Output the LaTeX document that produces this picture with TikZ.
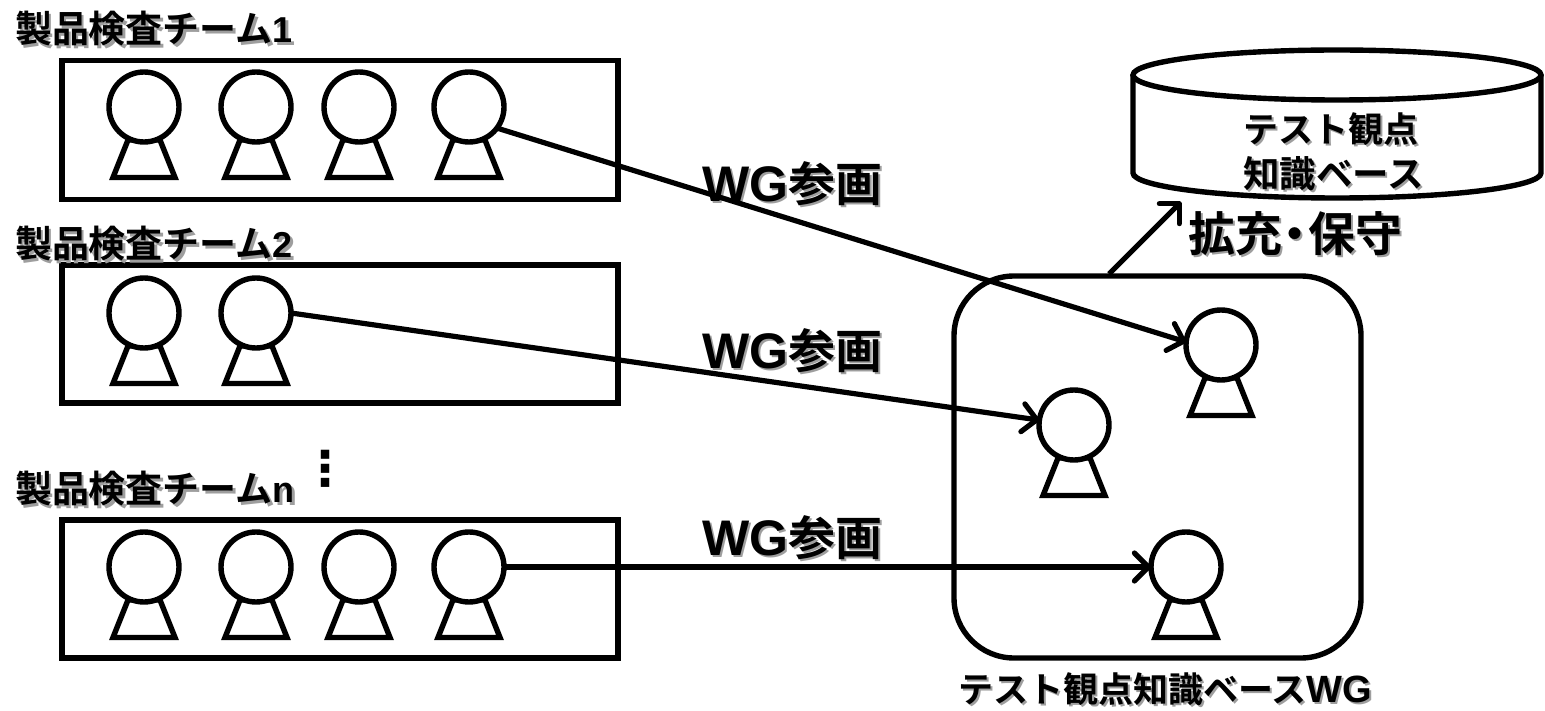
\documentclass[tikz,border=0pt]{standalone}
\usepackage{fontspec}
\usetikzlibrary{arrows.meta,shapes.geometric}
\setmainfont{Liberation Sans}
\newfontfamily\jpbold{Noto Sans CJK JP Bold}
\newfontfamily\latinbold{Liberation Sans Bold}
\newfontfamily\symfont{DejaVu Sans Bold}
\definecolor{softshadow}{gray}{0.62}
\newcommand{\shtext}[1]{\leavevmode\rlap{\kern2.2pt\raisebox{-2.2pt}{\color{softshadow}#1}}#1}
\newcommand{\jp}[2]{\fontsize{#1}{#1}\selectfont\jpbold\shtext{#2}}
\newcommand{\lat}[2]{{\fontsize{#1}{#1}\selectfont\latinbold #2}}
\newcommand{\person}[3]{%
  \draw[bodyshape] (#2-16,#3+33) -- (#2-31,#3+70.5) -- (#2+31,#3+70.5) -- (#2+16,#3+33) -- cycle;
  \node[headshape] (#1) at (#2,#3) {};
}
\tikzset{
  x=1pt,y=-1pt,
  frame/.style={draw=black,line width=5.4pt,fill=none},
  bodyshape/.style={draw=black,line width=5.4pt,miter limit=10},
  headshape/.style={circle,draw=black,fill=white,line width=5.4pt,minimum size=70pt,inner sep=0pt,outer sep=0pt},
  conn/.style={draw=black,line width=5.2pt,-{Straight Barb[length=14pt,width=28pt,line width=5.2pt,round]}},
  lab/.style={inner sep=0pt,outer sep=0pt,anchor=west,text=black},
}
\begin{document}
\begin{tikzpicture}
\useasboundingbox (0,0) rectangle (1545,711);
% team boxes
\node[frame,minimum width=556pt,minimum height=139pt,inner sep=0pt,outer sep=0pt] (t1) at (340,130) {};
\node[frame,minimum width=556pt,minimum height=138pt,inner sep=0pt,outer sep=0pt] (t2) at (340,334) {};
\node[frame,minimum width=556pt,minimum height=138pt,inner sep=0pt,outer sep=0pt] (t3) at (340,589) {};
% WG box
\node[frame,rounded corners=60pt,minimum width=407pt,minimum height=382pt,inner sep=0pt,outer sep=0pt] (wg) at (1157.5,467) {};
% labels
\node[lab] (l1) at (15,30) {\jp{37}{製品検査チーム\lat{36}{1}}};
\node[lab] (l2) at (15,245) {\jp{37}{製品検査チーム\lat{36}{2}}};
\node[lab] (l3) at (15,490) {\jp{37}{製品検査チーム\lat{36}{n}}};
\node[anchor=center,inner sep=0pt,outer sep=0pt] (dots) at (325,469) {\fontsize{48}{48}\selectfont\symfont ⋮};
\node[lab] (w1) at (702,185) {\jp{47}{\lat{50}{WG}参画}};
\node[lab] (w2) at (702,352) {\jp{47}{\lat{50}{WG}参画}};
\node[lab] (w3) at (702,539) {\jp{47}{\lat{50}{WG}参画}};
% cylinder
\draw[frame,fill=white] (1133,75) -- (1133,173) arc[start angle=180,end angle=360,x radius=204,y radius=-25] -- (1541,75);
\node[draw=black,fill=white,line width=5.4pt,ellipse,minimum width=408pt,minimum height=50pt,inner sep=0pt,outer sep=0pt] (db) at (1337,75) {};
\node[lab] (k1) at (1243,130) {\jp{35}{テスト観点}};
\node[lab] (k2) at (1243,175) {\jp{36.5}{知識ベース}};
\node[lab] (hk) at (1188,235) {\jp{47}{拡充\kern-.22em ・\kern-.22em 保守}};
\node[lab] (wgl) at (958,690) {\jp{35}{テスト観点知識ベース\lat{38}{WG}}};
% people
\person{p11}{144}{107}
\person{p12}{256}{107}
\person{p13}{359}{107}
\person{p14}{469}{107}
\person{p21}{144}{313}
\person{p22}{256}{313}
\person{p31}{144}{567}
\person{p32}{256}{567}
\person{p33}{359}{567}
\person{p34}{469}{567}
\person{qa}{1221}{345}
\person{qb}{1074}{425}
\person{qc}{1186}{567}
% connectors
\coordinate (up) at (1109,274);
\coordinate (dbin) at (1181,202);
\draw[conn] (p14.-37) -- (qa.175);
\draw[conn] (p22.0) -- (qb.172);
\draw[conn] (p34.0) -- (qc.180);
\draw[conn] (up) -- (dbin);
\end{tikzpicture}
\end{document}
